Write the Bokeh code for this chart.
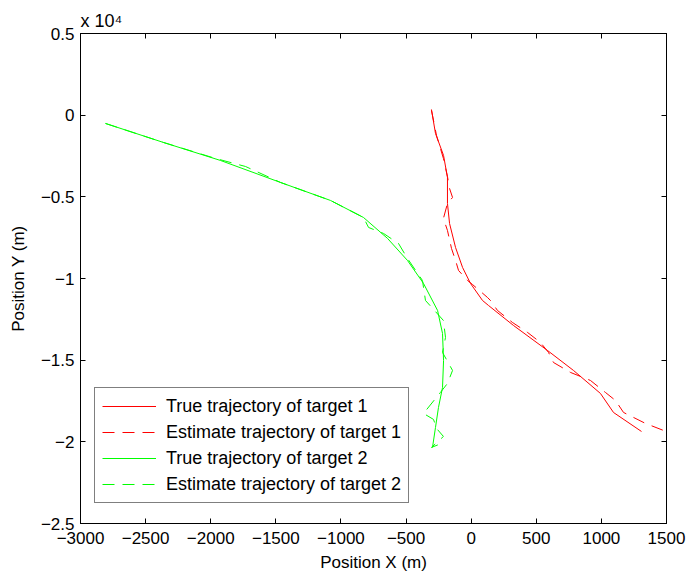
import numpy as np
from bokeh.plotting import figure
from bokeh.models import (Range1d, FixedTicker, LinearAxis, CustomJSTickFormatter,
                          ColumnDataSource, Legend, LegendItem)
from bokeh.embed import file_html
from bokeh.resources import INLINE

# ---- data (meters) ----
t1_true_x = [-305, -274, -212, -182, -182, -166, -120, -66, -5, 87, 133, 325, 586, 786, 993, 1093, 1308]
t1_true_y = [349, -1120, -2467, -3814, -5406, -6631, -8100, -9325, -10304, -11345, -11651,
             -12876, -14406, -15631, -17039, -18202, -19366]

t1_est_x = [-305, -266, -213, -182, -166, -143, -182, -213, -182, -151, -120, -97, -28, 10, 125, 148,
            202, 317, 433, 532, 594, 632, 763, 916, 1031, 1108, 1170, 1339, 1477, 1531]
t1_est_y = [300, -1243, -2651, -3753, -4487, -5038, -5406, -6324, -7059, -8161, -8895, -9507,
            -10120, -10365, -11160, -11344, -11956, -12691, -13303, -13915, -14527, -15140,
            -15752, -16242, -16976, -17466, -18201, -18874, -19303, -19425]

t2_true_x = [-2808, -2363, -1925, -1464, -1080, -827, -642, -489, -366, -258, -220, -212, -220,
             -251, -274, -297]
t2_true_y = [-508, -1671, -2773, -4120, -5222, -6263, -7549, -8896, -10304, -11957, -13366,
             -15018, -16672, -17896, -19121, -20345]

t2_est_x = [-2808, -2363, -1963, -1733, -1464, -1080, -827, -788, -673, -558, -489, -374, -351,
            -213, -197, -220, -143, -182, -236, -366, -289, -266, -213, -305, -228]
t2_est_y = [-508, -1671, -2651, -3141, -4120, -5222, -6263, -6875, -7242, -7855, -8773, -10120,
            -11344, -12569, -13609, -14527, -15630, -16425, -16976, -18262, -18629, -19180,
            -19670, -20343, -20099]

x_ticks = [-3000, -2500, -2000, -1500, -1000, -500, 0, 500, 1000, 1500]
y_ticks = [-2.5, -2, -1.5, -1, -0.5, 0, 0.5]
y_scale = 1e4

FONT = "Liberation Sans"
FS = "17px"

p = figure(width=686, height=578, output_backend="svg", toolbar_location=None,
           x_range=Range1d(-3000, 1500), y_range=Range1d(-2.5, 0.5),
           min_border_left=80, min_border_right=20, min_border_top=33, min_border_bottom=55)
p.grid.visible = False
p.outline_line_color = "black"
p.background_fill_color = "white"
p.border_fill_color = "white"

p.title.text = "x 10\u2074"
p.title.align = "left"
p.title.offset = 0
p.title.standoff = 5
p.title.text_font = FONT
p.title.text_font_size = "18px"
p.title.text_font_style = "normal"
p.title.text_color = "black"

minus_fmt = CustomJSTickFormatter(code="return String(tick).replace('-', '\u2212');")
empty_fmt = CustomJSTickFormatter(code="return '';")

for ax, ticks in ((p.xaxis[0], x_ticks), (p.yaxis[0], y_ticks)):
    ax.ticker = FixedTicker(ticks=ticks)
    ax.formatter = minus_fmt
    ax.major_tick_in = 5
    ax.major_tick_out = 0
    ax.minor_tick_line_color = None
    ax.axis_line_color = "black"
    ax.major_tick_line_color = "black"
    ax.major_label_text_font = FONT
    ax.major_label_text_font_size = FS
    ax.major_label_text_color = "black"
    ax.axis_label_text_font = FONT
    ax.axis_label_text_font_size = FS
    ax.axis_label_text_font_style = "normal"
    ax.axis_label_text_color = "black"

p.xaxis[0].axis_label = "Position X (m)"
p.yaxis[0].axis_label = "Position Y (m)"
p.xaxis[0].major_label_standoff = 8
p.yaxis[0].major_label_standoff = 6
p.xaxis[0].axis_label_standoff = 6
p.yaxis[0].axis_label_standoff = 10

top = LinearAxis(ticker=FixedTicker(ticks=x_ticks), formatter=empty_fmt,
                 major_tick_in=5, major_tick_out=0, minor_tick_line_color=None,
                 major_label_text_font_size="1px", major_label_standoff=0)
right = LinearAxis(ticker=FixedTicker(ticks=y_ticks), formatter=empty_fmt,
                   major_tick_in=5, major_tick_out=0, minor_tick_line_color=None,
                   major_label_text_font_size="1px", major_label_standoff=0)
p.add_layout(top, "above")
p.add_layout(right, "right")

src1t = ColumnDataSource(dict(x=t1_true_x, y=np.array(t1_true_y) / y_scale))
src1e = ColumnDataSource(dict(x=t1_est_x, y=np.array(t1_est_y) / y_scale))
src2t = ColumnDataSource(dict(x=t2_true_x, y=np.array(t2_true_y) / y_scale))
src2e = ColumnDataSource(dict(x=t2_est_x, y=np.array(t2_est_y) / y_scale))

DASH = "12 8"
r1t = p.line("x", "y", source=src1t, line_color="#ff0000", line_width=1)
r1e = p.line("x", "y", source=src1e, line_color="#ff0000", line_width=1, line_dash=DASH)
r2t = p.line("x", "y", source=src2t, line_color="#00ff00", line_width=1)
r2e = p.line("x", "y", source=src2e, line_color="#00ff00", line_width=1, line_dash=DASH)

legend = Legend(items=[
    LegendItem(label="True trajectory of target 1", renderers=[r1t]),
    LegendItem(label="Estimate trajectory of target 1", renderers=[r1e]),
    LegendItem(label="True trajectory of target 2", renderers=[r2t]),
    LegendItem(label="Estimate trajectory of target 2", renderers=[r2e]),
], location=(14, 20))
legend.border_line_color = "black"
legend.border_line_width = 1
legend.background_fill_color = "white"
legend.background_fill_alpha = 1
legend.label_text_font = FONT
legend.label_text_font_size = "18px"
legend.label_text_color = "black"
legend.glyph_width = 54
legend.glyph_height = 22
legend.label_height = 22
legend.label_standoff = 10
legend.spacing = 4
legend.padding = 7
legend.margin = 0
p.add_layout(legend, "center")

open("out.html", "w").write(file_html(p, INLINE))
